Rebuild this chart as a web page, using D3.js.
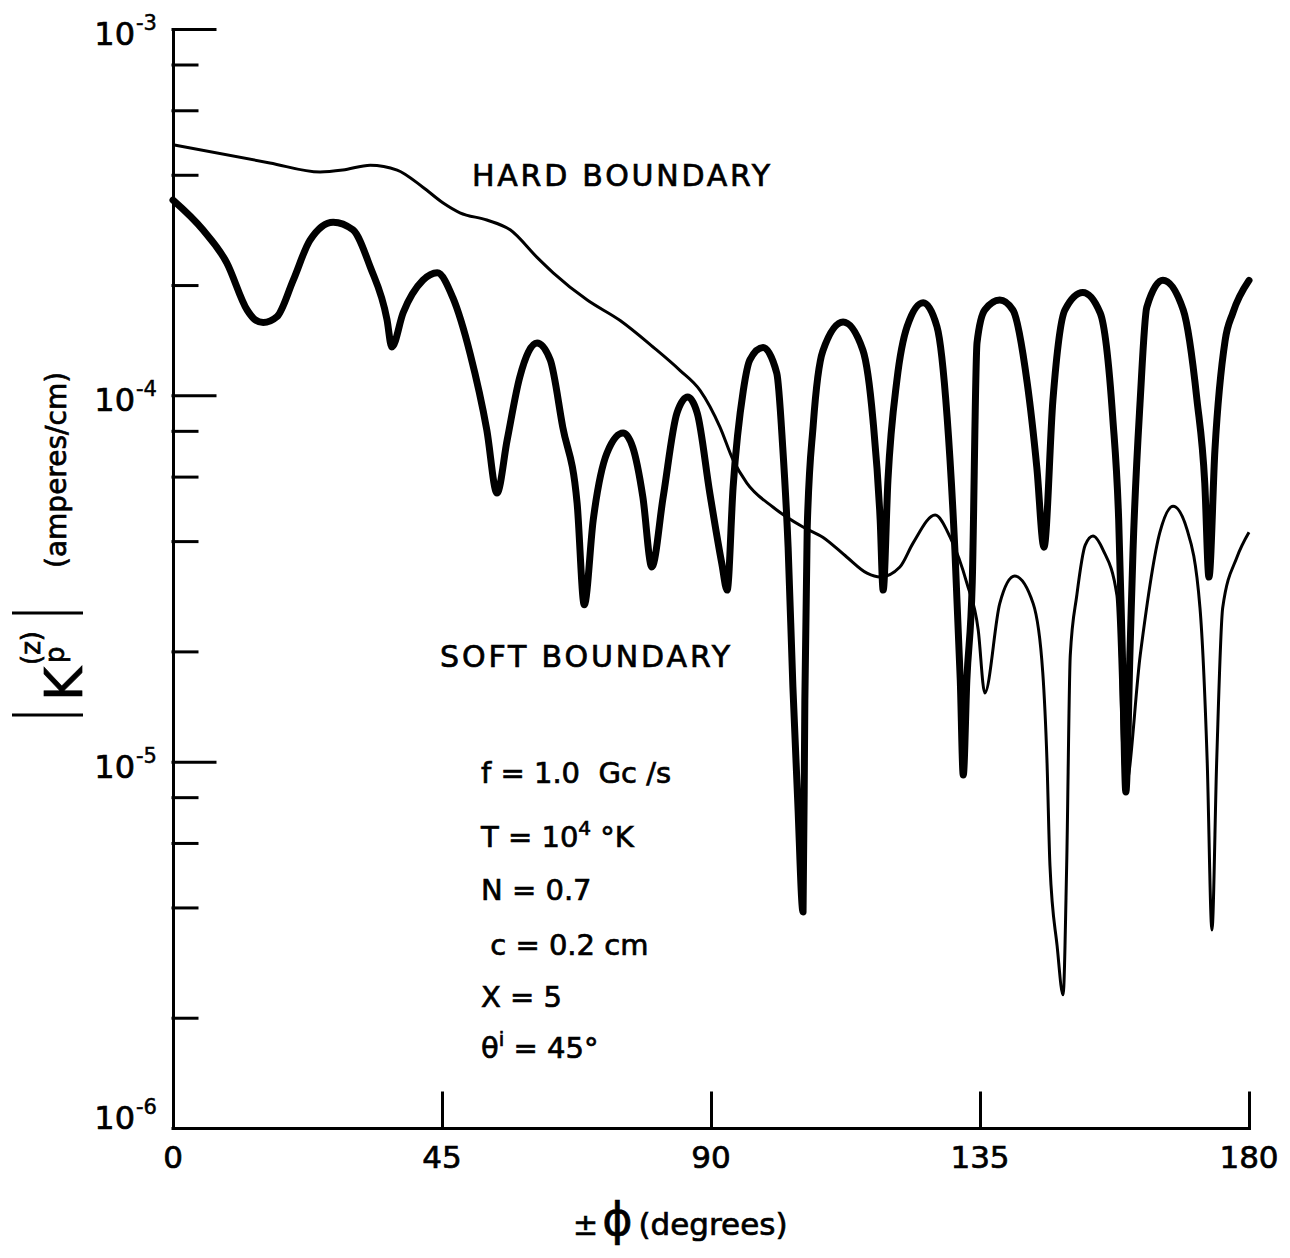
<!DOCTYPE html>
<html>
<head>
<meta charset="utf-8">
<script src="https://cdn.jsdelivr.net/npm/d3@7"></script>
<style>
  body { margin: 0; background: #fff; }
  svg { display: block; font-family: "DejaVu Sans", sans-serif; }
  .axis path, .axis line { stroke: #000; stroke-width: 3; stroke-linecap: square; }
  text { fill: #000; stroke: #000; stroke-width: 0.7px; white-space: pre; }
</style>
</head>
<body>
<div id="chart"></div>
<script>
// hard boundary curve (thin), phi in degrees, |K| in amperes/cm
var hardPhi = [0, 16.2, 24.6, 28.4, 33.0, 37.5, 41.8, 45.2, 48.0, 52.5,
  56.4, 60.9, 63.6, 69.3, 74.8, 80.3, 84.8, 88.2, 91.5, 93.7,
  96.0, 100.4, 105.4, 108.7, 112.7, 116.1, 118.3, 121.6, 123.8, 127.5,
  130.0, 132.8, 134.7, 135.8, 138.3, 140.8, 143.9, 145.5, 146.2, 146.7,
  147.9, 148.9, 149.5, 150.1, 151.2, 152.6, 153.9, 155.6, 157.9, 159.3,
  161.8, 165.1, 167.3, 169.6, 171.8, 173.0, 173.8, 174.6, 175.6, 178.0, 180];
var hardK = [4.83e-4, 4.31e-4, 4.07e-4, 4.12e-4, 4.25e-4, 4.12e-4, 3.70e-4, 3.35e-4, 3.15e-4, 3.01e-4,
  2.83e-4, 2.38e-4, 2.16e-4, 1.82e-4, 1.60e-4, 1.355e-4, 1.17e-4, 1.03e-4, 8.19e-5, 6.66e-5,
  5.76e-5, 4.95e-5, 4.37e-5, 4.10e-5, 3.62e-5, 3.27e-5, 3.19e-5, 3.40e-5, 3.95e-5, 4.71e-5,
  4.10e-5, 3.07e-5, 2.29e-5, 1.54e-5, 2.70e-5, 3.21e-5, 2.70e-5, 1.75e-5, 1.01e-5, 5.22e-6,
  3.14e-6, 2.31e-6, 5.22e-6, 1.95e-5, 2.85e-5, 3.90e-5, 4.13e-5, 3.78e-5, 2.85e-5, 8.47e-6,
  1.95e-5, 4.23e-5, 4.98e-5, 4.32e-5, 2.63e-5, 1.01e-5, 3.47e-6, 1.01e-5, 2.63e-5, 3.62e-5, 4.23e-5];

// soft boundary curve (thick)
var softPhi = [0, 5.0, 9.0, 12.4, 13.7, 15.1, 17.4, 20.1, 22.9, 26.8, 30.1,
  33.0, 35.8, 36.6, 38.5, 41.8, 44.2, 46.8, 49.7, 52.5, 54.2,
  55.9, 58.0, 60.9, 63.1, 65.2, 67.6, 68.8, 70.3, 72.6, 75.3,
  76.9, 78.6, 80.1, 82.0, 84.3, 86.1, 87.7, 89.8, 91.8, 92.7,
  93.7, 95.4, 96.5, 98.7, 101.0, 102.0, 102.9, 103.7, 104.5, 105.4,
  105.7, 106.1, 107.1, 108.7, 112.1, 115.4, 117.1, 118.3, 118.8, 119.6,
  121.1, 122.8, 125.5, 127.8, 129.5, 130.8, 131.7, 132.2, 132.8, 133.7,
  134.5, 135.8, 138.3, 140.5, 142.9, 144.5, 145.7, 147.2, 149.2, 152.2,
  155.1, 157.2, 158.2, 158.8, 159.4, 160.1, 160.6, 161.8, 162.9, 165.6,
  169.0, 171.3, 172.6, 173.3, 174.3, 176.0, 177.3, 180];
var softK = [3.41e-4, 2.83e-4, 2.30e-4, 1.71e-4, 1.61e-4, 1.58e-4, 1.64e-4, 2.06e-4, 2.65e-4, 2.97e-4, 2.83e-4,
  2.24e-4, 1.61e-4, 1.355e-4, 1.68e-4, 2.06e-4, 2.16e-4, 1.85e-4, 1.30e-4, 8.04e-5, 5.41e-5,
  7.55e-5, 1.12e-4, 1.39e-4, 1.25e-4, 8.19e-5, 5.08e-5, 2.68e-5, 4.57e-5, 6.96e-5, 7.89e-5,
  7.22e-5, 5.28e-5, 3.40e-5, 5.28e-5, 8.94e-5, 9.89e-5, 8.94e-5, 5.41e-5, 3.48e-5, 2.94e-5,
  5.62e-5, 1.03e-4, 1.25e-4, 1.35e-4, 1.15e-4, 7.22e-5, 3.85e-5, 1.60e-5, 7.86e-6, 3.89e-6,
  1.47e-5, 4.37e-5, 8.30e-5, 1.32e-4, 1.585e-4, 1.33e-4, 8.56e-5, 4.57e-5, 2.94e-5, 5.87e-5,
  1.10e-4, 1.54e-4, 1.79e-4, 1.54e-4, 8.72e-5, 3.78e-5, 1.67e-5, 9.19e-6, 1.67e-5, 3.07e-5,
  1.39e-4, 1.71e-4, 1.82e-4, 1.71e-4, 1.08e-4, 6.37e-5, 3.85e-5, 9.71e-5, 1.71e-4, 1.91e-4,
  1.68e-4, 8.72e-5, 4.57e-5, 2.02e-5, 8.26e-6, 2.02e-5, 3.78e-5, 9.71e-5, 1.74e-4, 2.06e-4,
  1.71e-4, 9.71e-5, 5.76e-5, 3.19e-5, 7.09e-5, 1.41e-4, 1.68e-4, 2.06e-4];

var xTicks = [0, 45, 90, 135, 180];
var decades = [1e-6, 1e-5, 1e-4, 1e-3];
var decadeExp = ["-6", "-5", "-4", "-3"];
var minorTicks = [];
decades.slice(0, 3).forEach(function(d) {
  [2, 4, 6, 8].forEach(function(m) { minorTicks.push(d * m); });
});

var params = [
  ["f = 1.0  Gc /s"],
  ["T = 10", "4", " °K"],
  ["N = 0.7"],
  [" c = 0.2 cm"],
  ["X = 5"],
  ["θ", "i", " = 45°"]
];

var width = 1290, height = 1258;

var svg = d3.select("#chart").append("svg")
    .attr("width", width)
    .attr("height", height);

var xScale = d3.scaleLinear().domain([0, 180]).range([173, 1249]);
var yScale = d3.scaleLog().domain([1e-6, 1e-3]).range([1128, 29]);

// axes
svg.append("g")
    .attr("class", "axis")
    .attr("transform", "translate(0,1128)")
    .call(d3.axisBottom(xScale).tickValues([45, 90, 135, 180])
      .tickSizeInner(-35).tickSizeOuter(0).tickFormat(""));

svg.append("g")
    .attr("class", "axis")
    .attr("transform", "translate(173,0)")
    .call(d3.axisLeft(yScale).tickValues(decades)
      .tickSizeInner(-42).tickSizeOuter(0).tickFormat(""));

var minorAxis = svg.append("g")
    .attr("class", "axis")
    .attr("transform", "translate(173,0)")
    .call(d3.axisLeft(yScale).tickValues(minorTicks)
      .tickSizeInner(-24).tickSizeOuter(0).tickFormat(""));
minorAxis.select(".domain").remove();

// x tick labels
svg.selectAll(".xlab")
    .data(xTicks)
    .enter()
    .append("text")
    .attr("class", "xlab")
    .attr("x", function(d) { return xScale(d); })
    .attr("y", 1168)
    .attr("text-anchor", "middle")
    .style("font-size", "31px")
    .text(function(d) { return d; });

// y tick labels 10^n
decades.forEach(function(d, i) {
  var yy = yScale(d) + (d === 1e-6 ? -15 : 0);
  svg.append("text")
      .attr("x", 135).attr("y", yy + 16)
      .attr("text-anchor", "end")
      .style("font-size", "32px")
      .text("10");
  svg.append("text")
      .attr("x", 136).attr("y", yy + 1)
      .style("font-size", "21px")
      .style("stroke-width", "0.5px")
      .text(decadeExp[i]);
});

// curves
var line = d3.line()
    .x(function(d) { return xScale(d[0]); })
    .y(function(d) { return yScale(d[1]); })
    .curve(d3.curveMonotoneX);

svg.append("path")
    .datum(hardPhi.map(function(p, i) { return [p, hardK[i]]; }))
    .attr("fill", "none")
    .attr("stroke", "#000")
    .attr("stroke-width", 3)
    .attr("stroke-linejoin", "round")
    .attr("d", line);

svg.append("path")
    .datum(softPhi.map(function(p, i) { return [p, softK[i]]; }))
    .attr("fill", "none")
    .attr("stroke", "#000")
    .attr("stroke-width", 7)
    .attr("stroke-linejoin", "round")
    .attr("stroke-linecap", "round")
    .attr("d", line);

// curve labels
svg.append("text")
    .attr("x", 472).attr("y", 186)
    .attr("textLength", 298).attr("lengthAdjust", "spacing")
    .style("font-size", "30px")
    .text("HARD BOUNDARY");

svg.append("text")
    .attr("x", 440).attr("y", 667)
    .attr("textLength", 290).attr("lengthAdjust", "spacing")
    .style("font-size", "30px")
    .text("SOFT BOUNDARY");

// parameter block
var paramY = [783, 847, 900, 955, 1007, 1058];
params.forEach(function(p, i) {
  var t = svg.append("text")
      .attr("x", 481).attr("y", paramY[i])
      .style("font-size", "29px");
  t.append("tspan").text(p[0]);
  if (p.length > 1) {
    t.append("tspan").attr("dy", -12).style("font-size", "20px").text(p[1]);
    t.append("tspan").attr("dy", 12).text(p[2]);
  }
});

// x axis title
var xt = svg.append("text")
    .attr("x", 573).attr("y", 1235);
xt.append("tspan").style("font-size", "30px").text("±");
xt.append("tspan").attr("dx", 4).style("font-size", "46px").text("ϕ");
xt.append("tspan").attr("dx", 6).style("font-size", "31px").text("(degrees)");

// y axis title, rotated
var yt = svg.append("g")
    .attr("transform", "translate(0,715) rotate(-90)");
yt.append("line")
    .attr("x1", 0).attr("x2", 0).attr("y1", 12).attr("y2", 83)
    .attr("stroke", "#000").attr("stroke-width", 3);
yt.append("text")
    .attr("x", 14).attr("y", 82)
    .style("font-size", "52px")
    .text("K");
yt.append("text")
    .attr("x", 52).attr("y", 64)
    .style("font-size", "26px")
    .text("p");
yt.append("text")
    .attr("x", 50).attr("y", 40)
    .style("font-size", "26px")
    .text("(z)");
yt.append("line")
    .attr("x1", 102).attr("x2", 102).attr("y1", 12).attr("y2", 83)
    .attr("stroke", "#000").attr("stroke-width", 3);
yt.append("text")
    .attr("x", 147).attr("y", 66)
    .style("font-size", "28px")
    .text("(amperes/cm)");
</script>
</body>
</html>
